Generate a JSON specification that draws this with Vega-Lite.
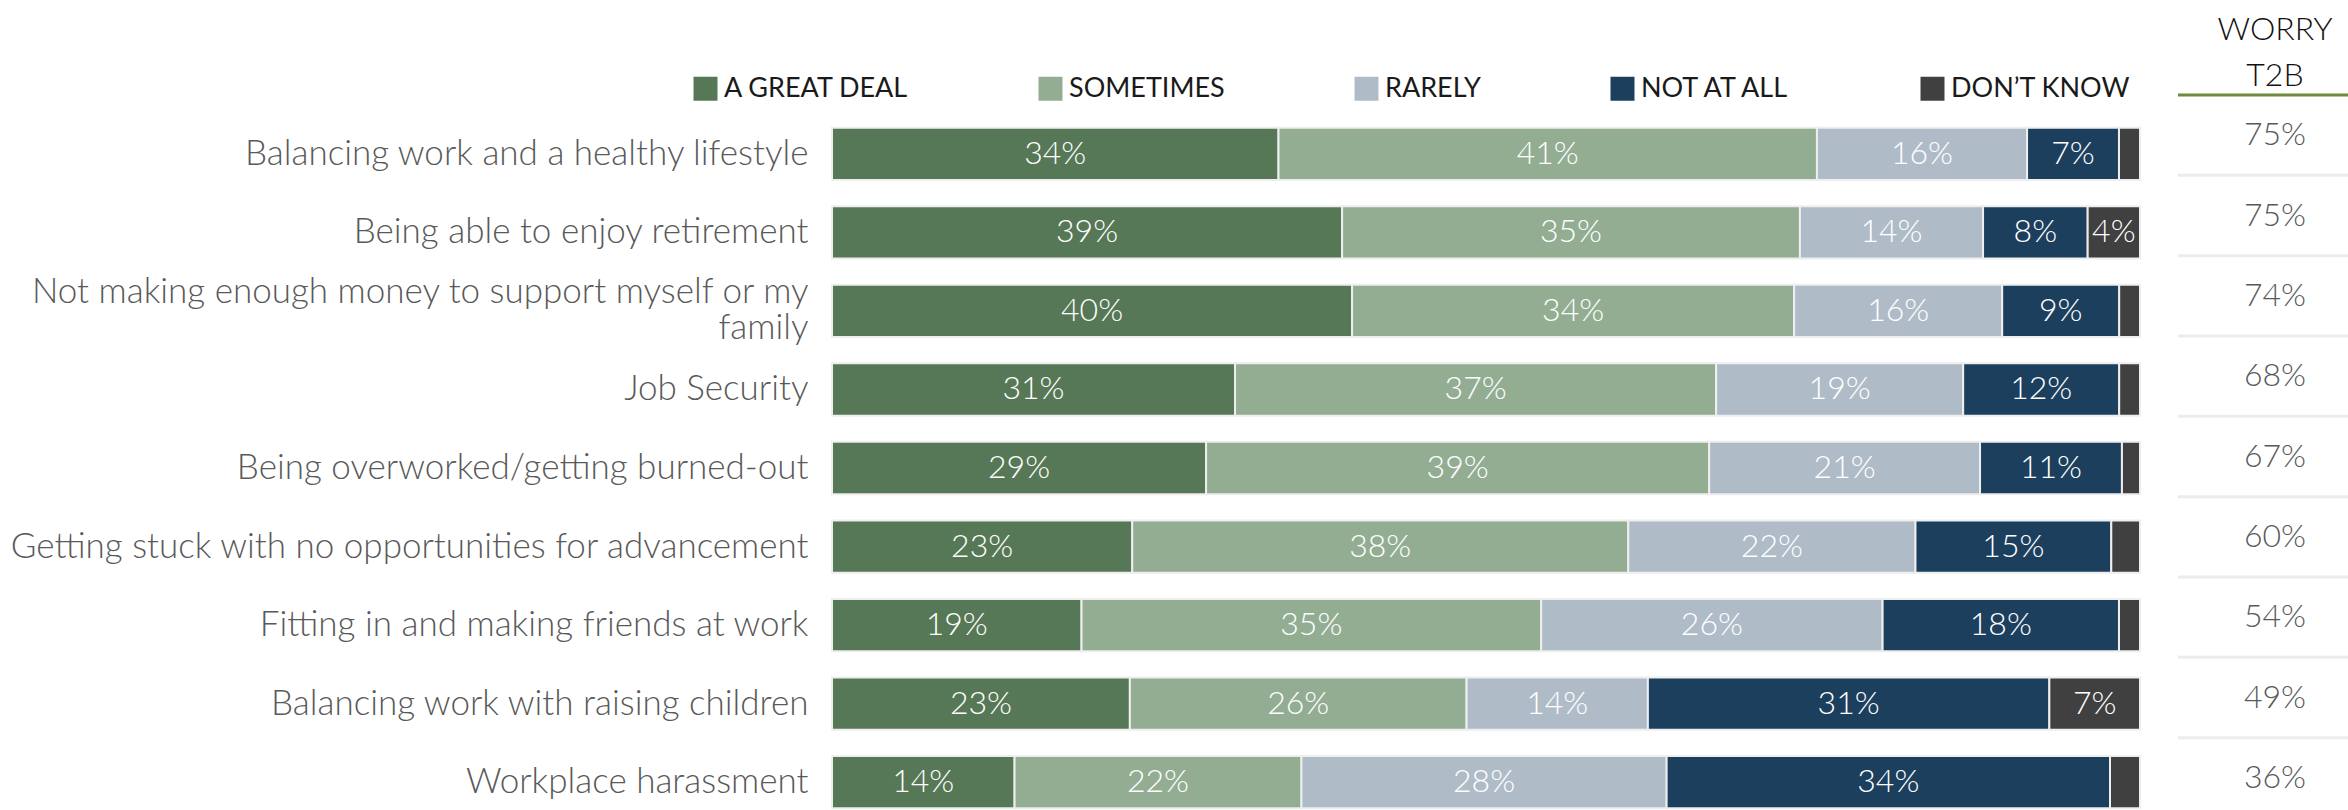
{
  "$schema": "https://vega.github.io/schema/vega-lite/v6.json",
  "padding": {"left": 8, "top": 13, "right": 0, "bottom": 0},
  "background": "white",
  "config": {"view": {"stroke": null}, "font": "Lato"},
  "spacing": 35,
  "datasets": {
    "bars": [
      {"item": "Balancing work and a healthy lifestyle", "order": 1, "resp": "A GREAT DEAL", "ro": 1, "v": 0.34},
      {"item": "Balancing work and a healthy lifestyle", "order": 1, "resp": "SOMETIMES", "ro": 2, "v": 0.41},
      {"item": "Balancing work and a healthy lifestyle", "order": 1, "resp": "RARELY", "ro": 3, "v": 0.16},
      {"item": "Balancing work and a healthy lifestyle", "order": 1, "resp": "NOT AT ALL", "ro": 4, "v": 0.07},
      {"item": "Balancing work and a healthy lifestyle", "order": 1, "resp": "DON’T KNOW", "ro": 5, "v": 0.016},
      {"item": "Being able to enjoy retirement", "order": 2, "resp": "A GREAT DEAL", "ro": 1, "v": 0.39},
      {"item": "Being able to enjoy retirement", "order": 2, "resp": "SOMETIMES", "ro": 2, "v": 0.35},
      {"item": "Being able to enjoy retirement", "order": 2, "resp": "RARELY", "ro": 3, "v": 0.14},
      {"item": "Being able to enjoy retirement", "order": 2, "resp": "NOT AT ALL", "ro": 4, "v": 0.08},
      {"item": "Being able to enjoy retirement", "order": 2, "resp": "DON’T KNOW", "ro": 5, "v": 0.04},
      {"item": "Not making enough money to support myself or my family", "order": 3, "resp": "A GREAT DEAL", "ro": 1, "v": 0.40},
      {"item": "Not making enough money to support myself or my family", "order": 3, "resp": "SOMETIMES", "ro": 2, "v": 0.34},
      {"item": "Not making enough money to support myself or my family", "order": 3, "resp": "RARELY", "ro": 3, "v": 0.16},
      {"item": "Not making enough money to support myself or my family", "order": 3, "resp": "NOT AT ALL", "ro": 4, "v": 0.09},
      {"item": "Not making enough money to support myself or my family", "order": 3, "resp": "DON’T KNOW", "ro": 5, "v": 0.016},
      {"item": "Job Security", "order": 4, "resp": "A GREAT DEAL", "ro": 1, "v": 0.31},
      {"item": "Job Security", "order": 4, "resp": "SOMETIMES", "ro": 2, "v": 0.37},
      {"item": "Job Security", "order": 4, "resp": "RARELY", "ro": 3, "v": 0.19},
      {"item": "Job Security", "order": 4, "resp": "NOT AT ALL", "ro": 4, "v": 0.12},
      {"item": "Job Security", "order": 4, "resp": "DON’T KNOW", "ro": 5, "v": 0.016},
      {"item": "Being overworked/getting burned-out", "order": 5, "resp": "A GREAT DEAL", "ro": 1, "v": 0.29},
      {"item": "Being overworked/getting burned-out", "order": 5, "resp": "SOMETIMES", "ro": 2, "v": 0.39},
      {"item": "Being overworked/getting burned-out", "order": 5, "resp": "RARELY", "ro": 3, "v": 0.21},
      {"item": "Being overworked/getting burned-out", "order": 5, "resp": "NOT AT ALL", "ro": 4, "v": 0.11},
      {"item": "Being overworked/getting burned-out", "order": 5, "resp": "DON’T KNOW", "ro": 5, "v": 0.014},
      {"item": "Getting stuck with no opportunities for advancement", "order": 6, "resp": "A GREAT DEAL", "ro": 1, "v": 0.23},
      {"item": "Getting stuck with no opportunities for advancement", "order": 6, "resp": "SOMETIMES", "ro": 2, "v": 0.38},
      {"item": "Getting stuck with no opportunities for advancement", "order": 6, "resp": "RARELY", "ro": 3, "v": 0.22},
      {"item": "Getting stuck with no opportunities for advancement", "order": 6, "resp": "NOT AT ALL", "ro": 4, "v": 0.15},
      {"item": "Getting stuck with no opportunities for advancement", "order": 6, "resp": "DON’T KNOW", "ro": 5, "v": 0.022},
      {"item": "Fitting in and making friends at work", "order": 7, "resp": "A GREAT DEAL", "ro": 1, "v": 0.19},
      {"item": "Fitting in and making friends at work", "order": 7, "resp": "SOMETIMES", "ro": 2, "v": 0.35},
      {"item": "Fitting in and making friends at work", "order": 7, "resp": "RARELY", "ro": 3, "v": 0.26},
      {"item": "Fitting in and making friends at work", "order": 7, "resp": "NOT AT ALL", "ro": 4, "v": 0.18},
      {"item": "Fitting in and making friends at work", "order": 7, "resp": "DON’T KNOW", "ro": 5, "v": 0.016},
      {"item": "Balancing work with raising children", "order": 8, "resp": "A GREAT DEAL", "ro": 1, "v": 0.23},
      {"item": "Balancing work with raising children", "order": 8, "resp": "SOMETIMES", "ro": 2, "v": 0.26},
      {"item": "Balancing work with raising children", "order": 8, "resp": "RARELY", "ro": 3, "v": 0.14},
      {"item": "Balancing work with raising children", "order": 8, "resp": "NOT AT ALL", "ro": 4, "v": 0.31},
      {"item": "Balancing work with raising children", "order": 8, "resp": "DON’T KNOW", "ro": 5, "v": 0.07},
      {"item": "Workplace harassment", "order": 9, "resp": "A GREAT DEAL", "ro": 1, "v": 0.14},
      {"item": "Workplace harassment", "order": 9, "resp": "SOMETIMES", "ro": 2, "v": 0.22},
      {"item": "Workplace harassment", "order": 9, "resp": "RARELY", "ro": 3, "v": 0.28},
      {"item": "Workplace harassment", "order": 9, "resp": "NOT AT ALL", "ro": 4, "v": 0.34},
      {"item": "Workplace harassment", "order": 9, "resp": "DON’T KNOW", "ro": 5, "v": 0.023}
    ],
    "t2b": [
      {"item": "Balancing work and a healthy lifestyle", "order": 1, "t2b": 0.75},
      {"item": "Being able to enjoy retirement", "order": 2, "t2b": 0.75},
      {"item": "Not making enough money to support myself or my family", "order": 3, "t2b": 0.74},
      {"item": "Job Security", "order": 4, "t2b": 0.68},
      {"item": "Being overworked/getting burned-out", "order": 5, "t2b": 0.67},
      {"item": "Getting stuck with no opportunities for advancement", "order": 6, "t2b": 0.60},
      {"item": "Fitting in and making friends at work", "order": 7, "t2b": 0.54},
      {"item": "Balancing work with raising children", "order": 8, "t2b": 0.49},
      {"item": "Workplace harassment", "order": 9, "t2b": 0.36}
    ]
  },
  "hconcat": [
    {
      "width": 1308,
      "height": 716,
      "data": {"name": "bars"},
      "transform": [
        {"stack": "v", "groupby": ["item"], "sort": [{"field": "ro", "order": "ascending"}], "as": ["v0", "v1"], "offset": "normalize"},
        {"calculate": "(datum.v0 + datum.v1) / 2", "as": "mid"}
      ],
      "encoding": {
        "y": {
          "field": "item", "type": "nominal",
          "sort": {"field": "order", "op": "min", "order": "ascending"},
          "scale": {"paddingInner": 0.334, "paddingOuter": 0.225, "align": 0.925},
          "axis": {
            "title": null, "ticks": false, "domain": false,
            "labelFont": "Lato", "labelFontWeight": 300, "labelFontSize": 35, "labelColor": "#595959",
            "labelPadding": 24, "labelLimit": 1000, "labelLineHeight": 36,
            "labelOffset": {"condition": {"test": "datum.value == 'Not making enough money to support myself or my family'", "value": -19}, "value": 0},
            "labelExpr": "datum.value == 'Not making enough money to support myself or my family' ? ['Not making enough money to support myself or my', 'family'] : datum.value"
          }
        }
      },
      "layer": [
        {
          "mark": {"type": "bar", "stroke": "#eeeeee", "strokeWidth": 2},
          "encoding": {
            "x": {"field": "v0", "type": "quantitative", "scale": {"domain": [0, 1], "nice": false, "zero": true}, "axis": null},
            "x2": {"field": "v1"},
            "color": {
              "field": "resp", "type": "nominal",
              "sort": ["A GREAT DEAL", "SOMETIMES", "RARELY", "NOT AT ALL", "DON’T KNOW"],
              "scale": {
                "domain": ["A GREAT DEAL", "SOMETIMES", "RARELY", "NOT AT ALL", "DON’T KNOW"],
                "range": ["#577856", "#93ad93", "#afbcc8", "#1d3f5e", "#404040"]
              },
              "legend": {
                "title": null, "orient": "none", "direction": "horizontal",
                "legendX": -140, "legendY": -20,
                "symbolType": "square", "symbolSize": 576, "symbolStrokeWidth": 0, "symbolOpacity": 1,
                "labelFont": "Lato", "labelFontSize": 27, "labelColor": "#1a1a1a", "labelOffset": 5,
                "columnPadding": 128, "labelLimit": 400
              }
            }
          }
        },
        {
          "transform": [{"filter": "datum.v >= 0.03"}],
          "mark": {"type": "text", "color": "white", "font": "Lato", "fontWeight": 300, "fontSize": 32, "baseline": "middle", "align": "center"},
          "encoding": {
            "x": {"field": "mid", "type": "quantitative", "scale": {"domain": [0, 1], "nice": false, "zero": true}, "axis": null},
            "text": {"field": "v", "type": "quantitative", "format": ".0%"}
          }
        }
      ]
    },
    {
      "width": 172,
      "height": 716,
      "data": {"name": "t2b"},
      "title": {
        "text": ["WORRY", "T2B"], "font": "Lato", "fontWeight": 300, "fontSize": 32, "lineHeight": 46,
        "color": "#111111", "anchor": "middle", "dx": 11, "dy": 40, "offset": 9, "baseline": "bottom"
      },
      "encoding": {
        "y": {
          "field": "item", "type": "nominal",
          "sort": {"field": "order", "op": "min", "order": "ascending"},
          "scale": {"range": [0, 723], "paddingInner": 0, "paddingOuter": 0},
          "axis": null
        }
      },
      "layer": [
        {
          "mark": {"type": "rule", "strokeWidth": 3},
          "encoding": {
            "y": {"field": "item", "type": "nominal", "sort": {"field": "order", "op": "min", "order": "ascending"}, "bandPosition": 0},
            "color": {"condition": {"test": "datum.order == 1", "value": "#6f8a3c"}, "value": "#ececec"}
          }
        },
        {
          "mark": {"type": "text", "font": "Lato", "fontWeight": 300, "fontSize": 32, "color": "#595959", "baseline": "middle", "align": "center", "dx": 11},
          "encoding": {
            "text": {"field": "t2b", "type": "quantitative", "format": ".0%"}
          }
        }
      ]
    }
  ]
}
